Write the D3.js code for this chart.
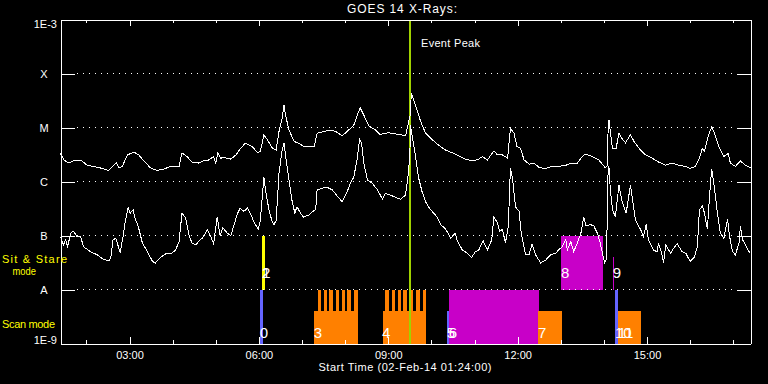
<!DOCTYPE html>
<html>
<head>
<meta charset="utf-8">
<script src="https://cdn.jsdelivr.net/npm/d3@7"></script>
<style>
  html, body { margin: 0; padding: 0; background: #000; }
  svg { display: block; }
  text { font-family: "Liberation Sans", Arial, sans-serif; }
</style>
</head>
<body>
<div id="chart"></div>
<script>
// GOES 14 long channel (1-8 A), W/m^2
const longChannel = [
  ["01:24",3.3e-6],["01:29",2.5e-6],["01:35",2.2e-6],["01:42",2.4e-6],["01:54",2.4e-6],["02:01",2.0e-6],
  ["02:10",1.9e-6],["02:22",1.75e-6],["02:31",1.6e-6],["02:38",2.0e-6],["02:42",2.2e-6],["02:45",1.8e-6],
  ["02:50",1.9e-6],["02:57",3.1e-6],["03:06",3.5e-6],["03:13",3.1e-6],["03:20",2.4e-6],["03:29",1.8e-6],
  ["03:38",1.6e-6],["03:48",1.7e-6],["03:57",1.9e-6],["04:09",1.9e-6],["04:13",3.4e-6],["04:20",2.9e-6],
  ["04:27",2.3e-6],["04:36",2.2e-6],["04:46",2.5e-6],["04:50",2.5e-6],["04:57",2.9e-6],["05:00",2.2e-6],
  ["05:03",3.4e-6],["05:07",2.7e-6],["05:11",2.8e-6],["05:21",2.6e-6],["05:28",3.1e-6],["05:34",4.0e-6],
  ["05:41",5.1e-6],["05:51",4.4e-6],["05:58",3.4e-6],["06:02",3.6e-6],["06:07",7.3e-6],["06:12",5.9e-6],
  ["06:19",4.1e-6],["06:24",3.8e-6],["06:28",8.4e-6],["06:32",1.4e-5],["06:35",2.6e-5],["06:37",1.7e-5],
  ["06:42",9.0e-6],["06:49",5.5e-6],["06:56",5.1e-6],["07:02",4.5e-6],["07:10",4.5e-6],["07:17",4.5e-6],
  ["07:21",7.8e-6],["07:30",8.4e-6],["07:40",9.0e-6],["07:47",8.4e-6],["07:56",7.0e-6],["08:05",9.0e-6],
  ["08:12",1.1e-5],["08:17",1.7e-5],["08:21",2.3e-5],["08:26",1.7e-5],["08:33",1.07e-5],["08:42",9.0e-6],
  ["08:49",7.3e-6],["08:54",7.8e-6],["09:01",8.0e-6],["09:10",7.6e-6],["09:19",7.3e-6],["09:24",7.0e-6],
  ["09:28",1.2e-5],["09:31",1.8e-5],["09:32",4.4e-5],["09:36",3.0e-5],["09:40",2.1e-5],["09:45",1.3e-5],
  ["09:52",7.8e-6],["10:01",6.0e-6],["10:10",4.7e-6],["10:20",3.8e-6],["10:29",3.4e-6],["10:38",3.0e-6],
  ["10:47",2.6e-6],["10:57",2.4e-6],["11:06",2.6e-6],["11:11",2.9e-6],["11:18",2.5e-6],["11:27",3.7e-6],
  ["11:32",3.1e-6],["11:39",3.1e-6],["11:46",2.7e-6],["11:50",9.7e-6],["11:55",7.8e-6],["11:59",4.5e-6],
  ["12:04",4.1e-6],["12:09",2.5e-6],["12:16",2.1e-6],["12:23",2.2e-6],["12:30",1.8e-6],["12:39",1.75e-6],
  ["12:48",1.9e-6],["12:57",1.9e-6],["13:07",2.0e-6],["13:16",2.2e-6],["13:23",2.2e-6],["13:30",2.9e-6],
  ["13:34",3.2e-6],["13:44",2.9e-6],["13:53",2.5e-6],["14:02",1.8e-6],["14:05",2.0e-6],["14:06",1.2e-5],
  ["14:07",1.4e-5],["14:09",8.4e-6],["14:12",4.1e-6],["14:17",4.1e-6],["14:21",7.8e-6],["14:25",6.3e-6],
  ["14:30",5.2e-6],["14:37",7.3e-6],["14:42",5.5e-6],["14:49",4.1e-6],["14:58",3.1e-6],["15:07",2.7e-6],
  ["15:16",2.3e-6],["15:26",2.0e-6],["15:35",2.2e-6],["15:44",2.0e-6],["15:54",1.9e-6],["16:00",1.75e-6],
  ["16:07",1.9e-6],["16:13",2.7e-6],["16:17",4.1e-6],["16:20",3.6e-6],["16:25",6.8e-6],["16:30",1.03e-5],
  ["16:34",7.8e-6],["16:40",4.4e-6],["16:47",2.9e-6],["16:53",3.3e-6],["16:56",2.2e-6],["17:03",1.9e-6],
  ["17:10",2.4e-6],["17:17",2.0e-6],["17:24",1.8e-6]
];

// GOES 14 short channel (0.5-4 A), W/m^2
const shortChannel = [
  ["01:24",9.5e-8],["01:28",6.7e-8],["01:31",8.3e-8],["01:34",6.2e-8],["01:38",1.1e-7],["01:42",1.2e-7],
  ["01:47",9.5e-8],["01:52",9.5e-8],["01:56",6.2e-8],["02:06",5.0e-8],["02:15",4.4e-8],["02:24",3.6e-8],
  ["02:31",3.4e-8],["02:34",3.8e-8],["02:37",8.3e-8],["02:41",8.9e-8],["02:47",4.8e-8],["02:51",9.5e-8],
  ["02:54",1.8e-7],["02:58",3.3e-7],["03:01",2.6e-7],["03:05",3.0e-7],["03:07",2.2e-7],["03:12",1.5e-7],
  ["03:18",7.2e-8],["03:25",5.0e-8],["03:32",3.3e-8],["03:36",3.1e-8],["03:42",3.8e-8],["03:48",4.4e-8],
  ["03:52",4.7e-8],["03:59",4.7e-8],["04:04",5.4e-8],["04:09",7.7e-8],["04:13",2.6e-7],["04:18",2.1e-7],
  ["04:23",1.0e-7],["04:27",7.2e-8],["04:32",6.7e-8],["04:36",7.7e-8],["04:41",8.9e-8],["04:46",1.1e-7],
  ["04:48",1.3e-7],["04:53",9.5e-8],["04:57",7.0e-8],["05:02",2.2e-7],["05:06",1.0e-7],["05:10",1.4e-7],
  ["05:16",1.1e-7],["05:21",1.0e-7],["05:25",1.5e-7],["05:30",2.5e-7],["05:34",3.2e-7],["05:39",2.8e-7],
  ["05:44",3.2e-7],["05:48",2.6e-7],["05:53",1.8e-7],["05:59",1.3e-7],["06:02",1.9e-7],["06:07",1.2e-6],
  ["06:10",6.0e-7],["06:14",3.0e-7],["06:18",1.9e-7],["06:21",1.6e-7],["06:24",1.9e-7],["06:28",1.4e-6],
  ["06:32",3.6e-6],["06:35",5.1e-6],["06:38",2.5e-6],["06:42",1.07e-6],["06:46",4.5e-7],["06:50",2.6e-7],
  ["06:53",3.4e-7],["06:58",2.6e-7],["07:02",2.2e-7],["07:10",2.4e-7],["07:15",2.8e-7],["07:19",3.0e-7],
  ["07:21",7.0e-7],["07:28",7.5e-7],["07:35",7.8e-7],["07:42",7.0e-7],["07:49",5.4e-7],["07:56",4.2e-7],
  ["08:03",6.5e-7],["08:07",9.2e-7],["08:12",1.2e-6],["08:17",2.7e-6],["08:20",6.0e-6],["08:23",5.1e-6],
  ["08:26",2.2e-6],["08:31",1.07e-6],["08:38",9.2e-7],["08:45",7.0e-7],["08:52",4.7e-7],["08:56",6.0e-7],
  ["09:03",5.6e-7],["09:10",5.1e-7],["09:17",4.7e-7],["09:24",5.6e-7],["09:27",1.07e-6],["09:30",2.9e-6],
  ["09:31",1.1e-5],["09:33",7.3e-6],["09:38",2.9e-6],["09:42",1.2e-6],["09:47",6.5e-7],["09:52",4.2e-7],
  ["09:56",3.4e-7],["10:01",2.8e-7],["10:08",2.2e-7],["10:13",1.6e-7],["10:20",1.3e-7],["10:27",8.9e-8],
  ["10:33",1.1e-7],["10:36",8.0e-8],["10:43",5.4e-8],["10:50",4.7e-8],["10:56",3.9e-8],["11:01",5.0e-8],
  ["11:06",5.4e-8],["11:12",8.0e-8],["11:18",5.4e-8],["11:24",8.3e-8],["11:27",2.2e-7],["11:32",1.7e-7],
  ["11:35",1.2e-7],["11:39",1.3e-7],["11:43",7.2e-8],["11:47",1.5e-7],["11:50",1.8e-6],["11:53",1.1e-6],
  ["11:57",3.4e-7],["12:02",2.8e-7],["12:05",1.1e-7],["12:11",4.4e-8],["12:16",4.4e-8],["12:20",7.0e-8],
  ["12:25",4.4e-8],["12:32",3.1e-8],["12:39",3.5e-8],["12:46",4.4e-8],["12:53",4.7e-8],["12:57",5.4e-8],
  ["13:02",6.2e-8],["13:07",8.3e-8],["13:09",5.4e-8],["13:14",7.7e-8],["13:18",5.0e-8],["13:23",7.2e-8],
  ["13:28",1.1e-7],["13:32",2.2e-7],["13:35",1.5e-7],["13:41",1.6e-7],["13:46",1.5e-7],["13:51",1.1e-7],
  ["13:55",7.2e-8],["13:58",4.7e-8],["14:01",3.1e-8],["14:04",3.8e-8],["14:05",1.07e-6],["14:07",1.9e-6],
  ["14:09",7.0e-7],["14:12",3.0e-7],["14:16",2.2e-7],["14:21",8.6e-7],["14:25",4.5e-7],["14:31",2.6e-7],
  ["14:37",8.6e-7],["14:40",4.5e-7],["14:44",1.9e-7],["14:51",1.3e-7],["14:55",9.5e-8],["14:59",1.6e-7],
  ["15:02",8.3e-8],["15:09",5.4e-8],["15:14",5.0e-8],["15:16",7.2e-8],["15:20",5.0e-8],["15:23",3.1e-8],
  ["15:26",6.7e-8],["15:33",4.7e-8],["15:37",5.8e-8],["15:42",7.0e-8],["15:49",5.0e-8],["15:54",4.7e-8],
  ["16:00",3.3e-8],["16:06",4.0e-8],["16:10",6.2e-8],["16:13",3.0e-7],["16:17",3.5e-7],["16:20",2.6e-7],
  ["16:24",1.3e-7],["16:26",3.4e-7],["16:28",8.0e-7],["16:30",1.7e-6],["16:33",9.2e-7],["16:38",2.6e-7],
  ["16:42",1.1e-7],["16:47",8.9e-8],["16:52",2.0e-7],["16:55",9.5e-8],["16:59",5.0e-8],["17:03",4.4e-8],
  ["17:08",7.2e-8],["17:10",1.5e-7],["17:13",8.3e-8],["17:17",6.7e-8],["17:22",5.0e-8],["17:24",4.7e-8]
];

// Observations, scan mode band (1E-9 .. A)
const scanMode = [
  { label: "0",  start: "06:02", end: "06:06", top: 1e-8, kind: "cal" },
  { label: "3",  start: "07:17", end: "08:18", top: 4e-9, kind: "raster" },
  { label: null, start: "07:22", end: "07:27", top: 1e-8, kind: "raster" },
  { label: null, start: "07:30", end: "07:35", top: 1e-8, kind: "raster" },
  { label: null, start: "07:38", end: "07:43", top: 1e-8, kind: "raster" },
  { label: null, start: "07:47", end: "07:52", top: 1e-8, kind: "raster" },
  { label: null, start: "07:55", end: "08:00", top: 1e-8, kind: "raster" },
  { label: null, start: "08:03", end: "08:08", top: 1e-8, kind: "raster" },
  { label: null, start: "08:13", end: "08:18", top: 1e-8, kind: "raster" },
  { label: "4",  start: "08:52", end: "09:53", top: 4e-9, kind: "raster" },
  { label: null, start: "08:56", end: "09:01", top: 1e-8, kind: "raster" },
  { label: null, start: "09:05", end: "09:10", top: 1e-8, kind: "raster" },
  { label: null, start: "09:13", end: "09:18", top: 1e-8, kind: "raster" },
  { label: null, start: "09:21", end: "09:26", top: 1e-8, kind: "raster" },
  { label: null, start: "09:30", end: "09:35", top: 1e-8, kind: "raster" },
  { label: null, start: "09:39", end: "09:44", top: 1e-8, kind: "raster" },
  { label: null, start: "09:48", end: "09:53", top: 1e-8, kind: "raster" },
  { label: "5",  start: "10:22", end: "10:25", top: 4e-9, kind: "cal" },
  { label: "6",  start: "10:25", end: "12:30", top: 1e-8, kind: "long" },
  { label: "7",  start: "12:29", end: "13:02", top: 4e-9, kind: "raster" },
  { label: "10", start: "14:16", end: "14:20", top: 1e-8, kind: "cal" },
  { label: "11", start: "14:20", end: "14:52", top: 4e-9, kind: "raster" }
];

// Observations, sit & stare band (A .. B)
const sitStareMode = [
  { label: "1", start: "06:05", end: "06:08", top: 1e-7, kind: "stare" },
  { label: "2", start: "06:05", end: "06:09", top: 4e-8, kind: "stare" },
  { label: "8", start: "13:01", end: "13:59", top: 1e-7, kind: "long" },
  { label: "9", start: "14:13", end: "14:14", top: 4e-8, kind: "long" }
];

const timeRange = ["01:24", "17:24"];
const eventPeak = "09:31";
const yTickValues = [1e-9, 1e-8, 1e-7, 1e-6, 1e-5, 1e-4, 1e-3];
const yTickLabels = ["1E-9", "A", "B", "C", "M", "X", "1E-3"];
const gridValues = [1e-8, 1e-7, 1e-6, 1e-5, 1e-4];

const kindColors = { cal: "#6464ff", raster: "#ff8000", long: "#c800c8", stare: "#ffff00" };

const width = 768, height = 384;
const plot = { left: 60.5, right: 750.5, top: 19.5, bottom: 343.5 };
const parseTime = d3.timeParse("%H:%M");

const svg = d3.select("#chart")
  .append("svg")
  .attr("width", width)
  .attr("height", height)
  .style("background", "#000");

const x = d3.scaleTime()
  .domain(timeRange.map(parseTime))
  .range([plot.left, plot.right]);

const y = d3.scaleLog()
  .domain([1e-9, 1e-3])
  .range([plot.bottom, plot.top]);

// Observation bars
const obs = svg.append("g");
function drawObs(list, base, labelOffset) {
  obs.append("g").selectAll("rect")
    .data(list)
    .enter()
    .append("rect")
    .attr("shape-rendering", "crispEdges")
    .attr("x", d => Math.round(x(parseTime(d.start))))
    .attr("width", d => Math.max(1, Math.round(x(parseTime(d.end))) - Math.round(x(parseTime(d.start)))))
    .attr("y", d => Math.round(y(d.top)))
    .attr("height", d => Math.round(y(base)) - Math.round(y(d.top)))
    .attr("fill", d => kindColors[d.kind]);

  // overlapping numbers (1/2, 5/6, 10/11) overlap in the original plot too
  obs.append("g").selectAll("text")
    .data(list.filter(d => d.label))
    .enter()
    .append("text")
    .attr("x", d => x(parseTime(d.start)) - 0.5)
    .attr("y", y(base) - labelOffset)
    .attr("fill", "#fff")
    .attr("font-size", 15)
    .text(d => d.label);
}
drawObs(scanMode, 1e-9, 5.5);
drawObs(sitStareMode, 1e-8, 11.5);

// Grid lines
svg.append("g")
  .selectAll("line")
  .data(gridValues)
  .enter()
  .append("line")
  .attr("x1", plot.left + 14)
  .attr("x2", plot.right - 14)
  .attr("y1", d => y(d))
  .attr("y2", d => y(d))
  .attr("stroke", "#fff")
  .attr("stroke-dasharray", "1,5")
  .attr("stroke-dashoffset", 3.5)
  .attr("shape-rendering", "crispEdges");

// Event peak marker
const peakX = Math.floor(x(parseTime(eventPeak)));
svg.append("line")
  .attr("x1", peakX).attr("x2", peakX)
  .attr("y1", plot.top).attr("y2", plot.bottom)
  .attr("stroke", "#a0d200")
  .attr("stroke-width", 2)
  .attr("shape-rendering", "crispEdges");

svg.append("text")
  .attr("x", peakX + 11)
  .attr("y", 47)
  .attr("fill", "#fff")
  .attr("font-size", 11)
  .attr("textLength", 59)
  .attr("lengthAdjust", "spacing")
  .text("Event Peak");

// Flux curves
const line = d3.line()
  .x(d => x(parseTime(d[0])))
  .y(d => y(d[1]));

[longChannel, shortChannel].forEach(series => {
  svg.append("path")
    .datum(series)
    .attr("fill", "none")
    .attr("stroke", "#fff")
    .attr("stroke-width", 1)
    .attr("shape-rendering", "crispEdges")
    .attr("d", line);
});

// Axes
function styleAxis(g) {
  g.attr("color", "#fff").attr("font-family", null).attr("font-size", 11);
  g.selectAll("line").attr("shape-rendering", "crispEdges");
  g.select(".domain").attr("shape-rendering", "crispEdges");
}

// X Axis (bottom)
svg.append("g")
  .attr("transform", `translate(0,${plot.bottom})`)
  .call(d3.axisBottom(x).ticks(d3.timeHour.every(1)).tickSizeInner(-3.5).tickSizeOuter(0).tickFormat(""))
  .call(styleAxis);

svg.append("g")
  .attr("transform", `translate(0,${plot.bottom})`)
  .call(d3.axisBottom(x).ticks(d3.timeHour.every(3)).tickSizeInner(-6.5).tickSizeOuter(0)
    .tickPadding(8).tickFormat(d3.timeFormat("%H:%M")))
  .call(styleAxis);

// X Axis (top)
svg.append("g")
  .attr("transform", `translate(0,${plot.top})`)
  .call(d3.axisTop(x).ticks(d3.timeHour.every(1)).tickSizeInner(-3.5).tickSizeOuter(0).tickFormat(""))
  .call(styleAxis);

svg.append("g")
  .attr("transform", `translate(0,${plot.top})`)
  .call(d3.axisTop(x).ticks(d3.timeHour.every(3)).tickSizeInner(-6.5).tickSizeOuter(0).tickFormat(""))
  .call(styleAxis);

// Y Axis (left)
const yLeft = svg.append("g")
  .attr("transform", `translate(${plot.left},0)`)
  .call(d3.axisLeft(y).tickValues(yTickValues).tickSizeInner(-14).tickSizeOuter(0)
    .tickPadding(3).tickFormat((d, i) => yTickLabels[i]))
  .call(styleAxis);

yLeft.selectAll("text")
  .attr("dy", null)
  .attr("y", (d, i) => i === 0 ? -0.5 : i === yTickValues.length - 1 ? 7.5 : 4.2)
  .attr("x", (d, i) => (i === 0 || i === yTickValues.length - 1) ? -3.5 : -16.5)
  .attr("text-anchor", (d, i) => (i === 0 || i === yTickValues.length - 1) ? "end" : "middle");

// Y Axis (right)
svg.append("g")
  .attr("transform", `translate(${plot.right},0)`)
  .call(d3.axisRight(y).tickValues(yTickValues).tickSizeInner(-14).tickSizeOuter(0).tickFormat(""))
  .call(styleAxis);

// Titles
svg.append("text")
  .attr("x", 402)
  .attr("y", 13)
  .attr("text-anchor", "middle")
  .attr("fill", "#fff")
  .attr("font-size", 12)
  .attr("textLength", 110)
  .attr("lengthAdjust", "spacing")
  .text("GOES 14 X-Rays:");

svg.append("text")
  .attr("x", 405)
  .attr("y", 371)
  .attr("text-anchor", "middle")
  .attr("fill", "#fff")
  .attr("font-size", 11)
  .attr("textLength", 173)
  .attr("lengthAdjust", "spacing")
  .text("Start Time (02-Feb-14 01:24:00)");

// Band labels
const bandLabels = svg.append("g").attr("fill", "#ffff00").attr("font-size", 11);
bandLabels.append("text").attr("x", 2).attr("y", 262.5)
  .attr("textLength", 65).attr("lengthAdjust", "spacing").text("Sit & Stare");
bandLabels.append("text").attr("x", 12.5).attr("y", 274.5)
  .attr("textLength", 23.5).attr("lengthAdjust", "spacingAndGlyphs").text("mode");
bandLabels.append("text").attr("x", 2).attr("y", 328)
  .attr("textLength", 53).attr("lengthAdjust", "spacing").text("Scan mode");
</script>
</body>
</html>
